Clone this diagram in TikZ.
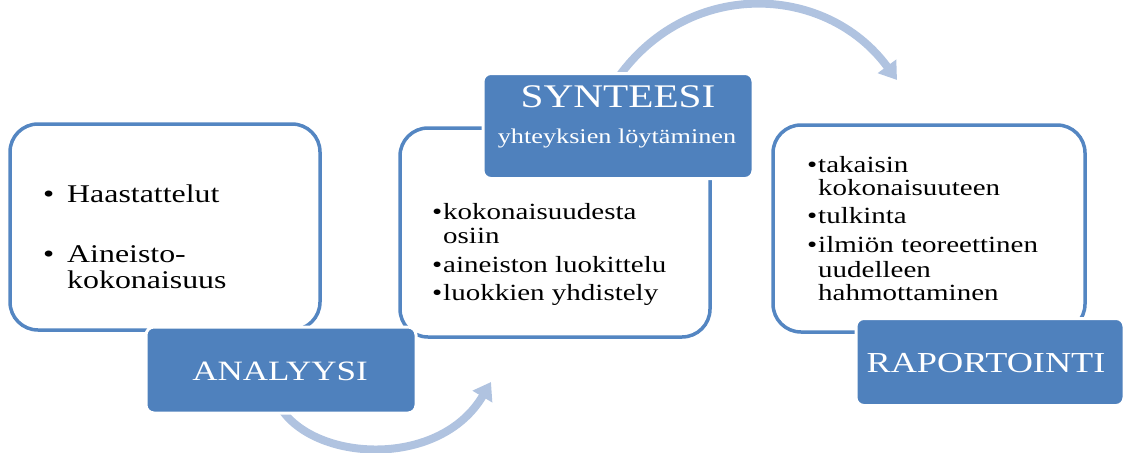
\documentclass[tikz,border=0pt]{standalone}
\usepackage{fontspec}
\setmainfont{Liberation Serif}
\newfontfamily\wideserif[FakeStretch=1.25]{Liberation Serif}
\usetikzlibrary{arrows.meta}
\definecolor{boxblue}{RGB}{79,129,189}
\definecolor{edgeblue}{RGB}{84,134,194}
\definecolor{arrowblue}{RGB}{176,195,224}
\tikzset{
  whitebox/.style={draw=edgeblue, line width=3.5pt, fill=white, rounded corners=28pt},
  bluebox/.style={draw=white, line width=3pt, fill=boxblue, rounded corners=8pt},
  cycarrow/.style={draw=arrowblue, line width=8pt, -{Triangle[width=22pt,length=17pt]}},
  txt/.style={anchor=base west, inner sep=0pt, text=black},
  wtxt/.style={anchor=base, inner sep=0pt, text=white},
}
\newcommand{\bul}{\textbullet}
\begin{document}
\begin{tikzpicture}[x=1pt,y=-1pt]
\useasboundingbox (0,0) rectangle (1123,452);
% cycle arrows
\coordinate (a1s) at (615,82);
\coordinate (a1e) at (897,80);
\coordinate (a2s) at (282,410);
\coordinate (a2e) at (491,382);
\draw[cycarrow] (a1s) .. controls (685,-22) and (825,-18) .. (a1e);
\draw[cycarrow] (a2s) .. controls (318,462) and (440,468) .. (a2e);
% white boxes
\draw[whitebox] (10,124) rectangle (320,330);
\draw[whitebox] (400,128) rectangle (710,337);
\draw[whitebox] (773,125) rectangle (1085,332);
% blue boxes
\node[bluebox, minimum width=270pt, minimum height=86pt] (ana) at (281,370) {};
\node[bluebox, minimum width=270pt, minimum height=105pt] (syn) at (618,126) {};
\node[bluebox, minimum width=268pt, minimum height=87pt] (rap) at (990,362) {};
% blue box labels
\node[wtxt, font=\wideserif\fontsize{28}{30}\selectfont] (anat) at (280,380) {ANALYYSI};
\node[wtxt, font=\wideserif\fontsize{33}{35}\selectfont] (synt) at (618,107) {SYNTEESI};
\node[wtxt, font=\wideserif\fontsize{21}{23}\selectfont] (syns) at (617,143) {yhteyksien löytäminen};
\node[wtxt, font=\wideserif\fontsize{29}{31}\selectfont] (rapt) at (986,372) {RAPORTOINTI};
% box 1 text
\begin{scope}[every node/.style={txt, font=\wideserif\fontsize{25.5}{27}\selectfont}]
\node (b1a) at (43,202) {\bul};
\node (t1a) at (67,202) {Haastattelut};
\node (b1b) at (43,262) {\bul};
\node (t1b) at (67,262) {Aineisto-};
\node (t1c) at (67,288) {kokonaisuus};
\end{scope}
% box 2 text
\begin{scope}[every node/.style={txt, font=\wideserif\fontsize{23.2}{25}\selectfont}]
\node (b2a) at (432,219) {\bul};
\node (t2a) at (443,219) {kokonaisuudesta};
\node (t2b) at (443,243) {osiin};
\node (b2c) at (432,272) {\bul};
\node (t2c) at (443,272) {aineiston luokittelu};
\node (b2d) at (432,300) {\bul};
\node (t2d) at (443,300) {luokkien yhdistely};
\end{scope}
% box 3 text
\begin{scope}[every node/.style={txt, font=\wideserif\fontsize{23.2}{25}\selectfont}]
\node (b3a) at (807,172) {\bul};
\node (t3a) at (818,172) {takaisin};
\node (t3b) at (818,195) {kokonaisuuteen};
\node (b3c) at (807,223) {\bul};
\node (t3c) at (818,223) {tulkinta};
\node (b3d) at (807,252) {\bul};
\node (t3d) at (818,252) {ilmiön teoreettinen};
\node (t3e) at (818,277) {uudelleen};
\node (t3f) at (818,300) {hahmottaminen};
\end{scope}
\end{tikzpicture}
\end{document}
